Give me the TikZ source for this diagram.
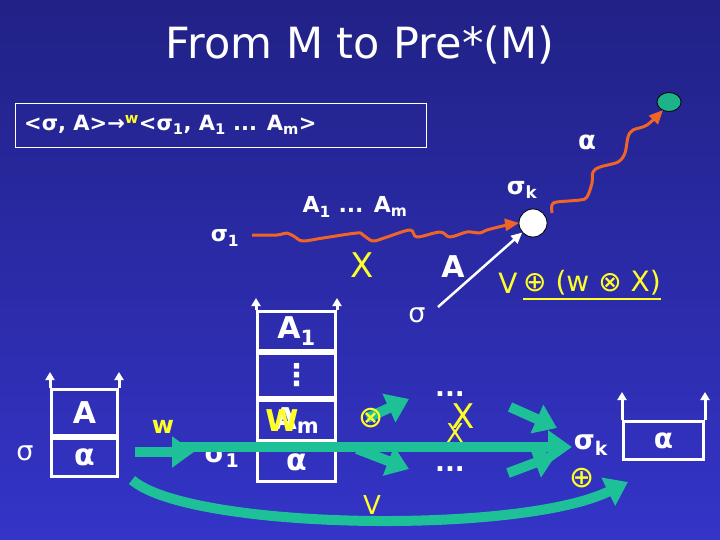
\documentclass[tikz,border=0pt]{standalone}
\usepackage{fontspec}
\setmainfont{DejaVu Sans}
\usetikzlibrary{arrows.meta,shapes.geometric}
\definecolor{bgtop}{RGB}{33,33,134}
\definecolor{bgbot}{RGB}{52,52,200}
\definecolor{tealg}{RGB}{30,192,152}
\definecolor{orng}{RGB}{240,100,40}
\definecolor{yel}{RGB}{255,255,40}
\definecolor{dotg}{RGB}{28,178,138}
\newcommand{\myfs}[1]{\fontsize{#1}{#1}\selectfont}
\begin{document}
\begin{tikzpicture}[x=1pt,y=-1pt,
  lbl/.style={text=white, inner sep=0pt},
  blbl/.style={text=white, inner sep=0pt},
  ylbl/.style={text=yel, inner sep=0pt},
  cell/.style={draw=white, line width=3pt, inner sep=0pt, text=white, font=\myfs{30}\bfseries},
  stkarr/.style={draw=white, line width=3pt, -{Triangle[length=8pt,width=9pt]}},
  orline/.style={draw=orng, line width=3pt, line join=round, -{Triangle[length=14pt,width=12pt]}},
  garrow/.style={draw=tealg, line width=10pt, -{Triangle[length=22pt,width=30pt]}}
]
\useasboundingbox (0,0) rectangle (720,540);
\shade[top color=bgtop, bottom color=bgbot] (0,0) rectangle (720,540);

% title
\node[lbl, font=\myfs{43}] (title) at (360,45) {From M to Pre*(M)};

% header box
\node[draw=white, line width=0.8pt, minimum width=411pt, minimum height=44pt, anchor=north west, inner sep=0pt] (hdr) at (15,103) {};
\node[blbl, anchor=west, font=\myfs{21}\bfseries] (hdrtxt) at (24,125)
  {<σ, A>→\textsuperscript{\textcolor{yel}{w}}<σ\textsubscript{1}, A\textsubscript{1} ... A\textsubscript{m}>};

% upper scene
\node[ellipse, fill=dotg, draw=black, line width=0.8pt, minimum width=24pt, minimum height=19pt, inner sep=0pt] (g) at (669,102) {};
\node[circle, fill=white, draw=black, line width=0.8pt, minimum size=28pt, inner sep=0pt] (sk) at (533,223) {};
\node[blbl, font=\myfs{24}\bfseries] (skl) at (522,190) {σ\textsubscript{k}};
\node[blbl, font=\myfs{26}\bfseries] (alab) at (587,142) {α};
\node[blbl, font=\myfs{22}\bfseries] (s1) at (225,238) {σ\textsubscript{1}};
\node[blbl, font=\myfs{22}\bfseries] (aam) at (355,207) {A\textsubscript{1} ... A\textsubscript{m}};
\node[ylbl, font=\myfs{34}] (xup) at (362,265) {X};
\node[blbl, font=\myfs{30}\bfseries] (aup) at (453,267) {A};
\node[lbl, font=\myfs{27}] (sup) at (417,315) {σ};
\node[ylbl, font=\myfs{28}] (vv) at (508,283) {V};
\node[ylbl, font=\myfs{28}, anchor=west] (vexp) at (523,283) {⊕ (w ⊗ X)};
\draw[yel, line width=2pt] ([yshift=-3pt]vexp.south west) -- ([yshift=-3pt]vexp.south east);

\coordinate (o1) at (252,235);
\draw[orline] plot[smooth, tension=0.55] coordinates {(o1) (277,235) (287,233) (295,237) (303,241) (323,238) (357,233) (363,235) (373,241) (387,237) (410,230) (417,237) (440,232) (450,237) (467,232) (480,233) (487,230) (507,225) (519,223)};
\coordinate (o2) at (552,213);
\draw[orline] plot[smooth, tension=0.55] coordinates {(o2) (552,205) (557,202) (580,200) (587,197) (592,183) (593,172) (600,167) (618,162) (625,153) (628,137) (633,130) (647,125) (663,110)};

\coordinate (wa) at (438,307);
\draw[draw=white, line width=2.5pt, -{Triangle[length=11pt,width=10pt]}] (wa) -- (sk);

% left stack
\node[lbl, font=\myfs{27}] (sl) at (25,453) {σ};
\node[cell, minimum width=66pt, minimum height=46pt, anchor=north west] (lA) at (50,388) {A};
\node[cell, minimum width=66pt, minimum height=38pt, anchor=north] (la) at (lA.south) {α};
\draw[stkarr] (lA.north west) -- ++(0,-16);
\draw[stkarr] (lA.north east) -- ++(0,-16);

% middle stack
\node[blbl, font=\myfs{27}\bfseries] (s1b) at (222,458) {σ\textsubscript{1}};
\node[cell, minimum width=78pt, minimum height=39pt, anchor=north west] (m1) at (256,310) {A\textsubscript{1}};
\node[cell, minimum width=78pt, minimum height=44pt, anchor=north] (m2) at (m1.south) {⋮};
\node[cell, minimum width=78pt, minimum height=40pt, anchor=north] (m3) at (m2.south) {A\textsubscript{m}};
\node[cell, minimum width=78pt, minimum height=38pt, anchor=north] (m4) at (m3.south) {α};
\draw[stkarr] (m1.north west) -- ++(0,-12);
\draw[stkarr] (m1.north east) -- ++(0,-12);
\node[ylbl, font=\myfs{30}\bfseries] (wbig) at (282,421) {W};

% right stack
\node[cell, minimum width=80pt, minimum height=38pt, anchor=north west, font=\myfs{28}\bfseries] (rA) at (622,420) {α};
\draw[stkarr] (rA.north west) -- ++(0,-28);
\draw[stkarr] (rA.north east) -- ++(0,-28);

% labels bottom
\node[ylbl, font=\myfs{24}\bfseries] (wl) at (163,427) {w};
\node[blbl, font=\myfs{27}\bfseries] (skb) at (591,445) {σ\textsubscript{k}};
\node[ylbl, font=\myfs{30}] (oplus) at (582,478) {⊕};
\node[ylbl, font=\myfs{26}] (vb) at (372,505) {V};
\node[blbl, font=\myfs{26}\bfseries] (d1) at (450,394) {...};
\node[blbl, font=\myfs{26}\bfseries] (d2) at (450,469) {...};
\node[ylbl, font=\myfs{34}] (x1) at (463,416) {X};
\node[ylbl, font=\myfs{26}] (x2) at (455,433) {X};

% green arrows
\coordinate (ga) at (135,452);
\coordinate (gb) at (194,452);
\coordinate (gc) at (180,447);
\coordinate (gd) at (572,447);
\draw[garrow] (ga) -- (gb);
\draw[draw=tealg, line width=10pt, -{Triangle[length=24pt,width=32pt]}] (gc) -- (gd);
\coordinate (u1) at (367,418);
\coordinate (u2) at (409,399);
\draw[garrow] (u1) -- (u2);
\coordinate (l1) at (357,449);
\coordinate (l2) at (409,469);
\draw[garrow] (l1) -- (l2);
\coordinate (r1) at (510,407);
\coordinate (r2) at (557,428);
\draw[garrow] (r1) -- (r2);
\coordinate (r3) at (508,473);
\coordinate (r4) at (556,455);
\draw[garrow] (r3) -- (r4);
\coordinate (c1) at (132,480);
\coordinate (c2) at (628,482);
\draw[garrow] (c1) .. controls (190,530) and (520,535) .. (c2);
\node[ylbl, font=\myfs{30}] (otimes) at (371,418) {⊗};
\end{tikzpicture}
\end{document}
